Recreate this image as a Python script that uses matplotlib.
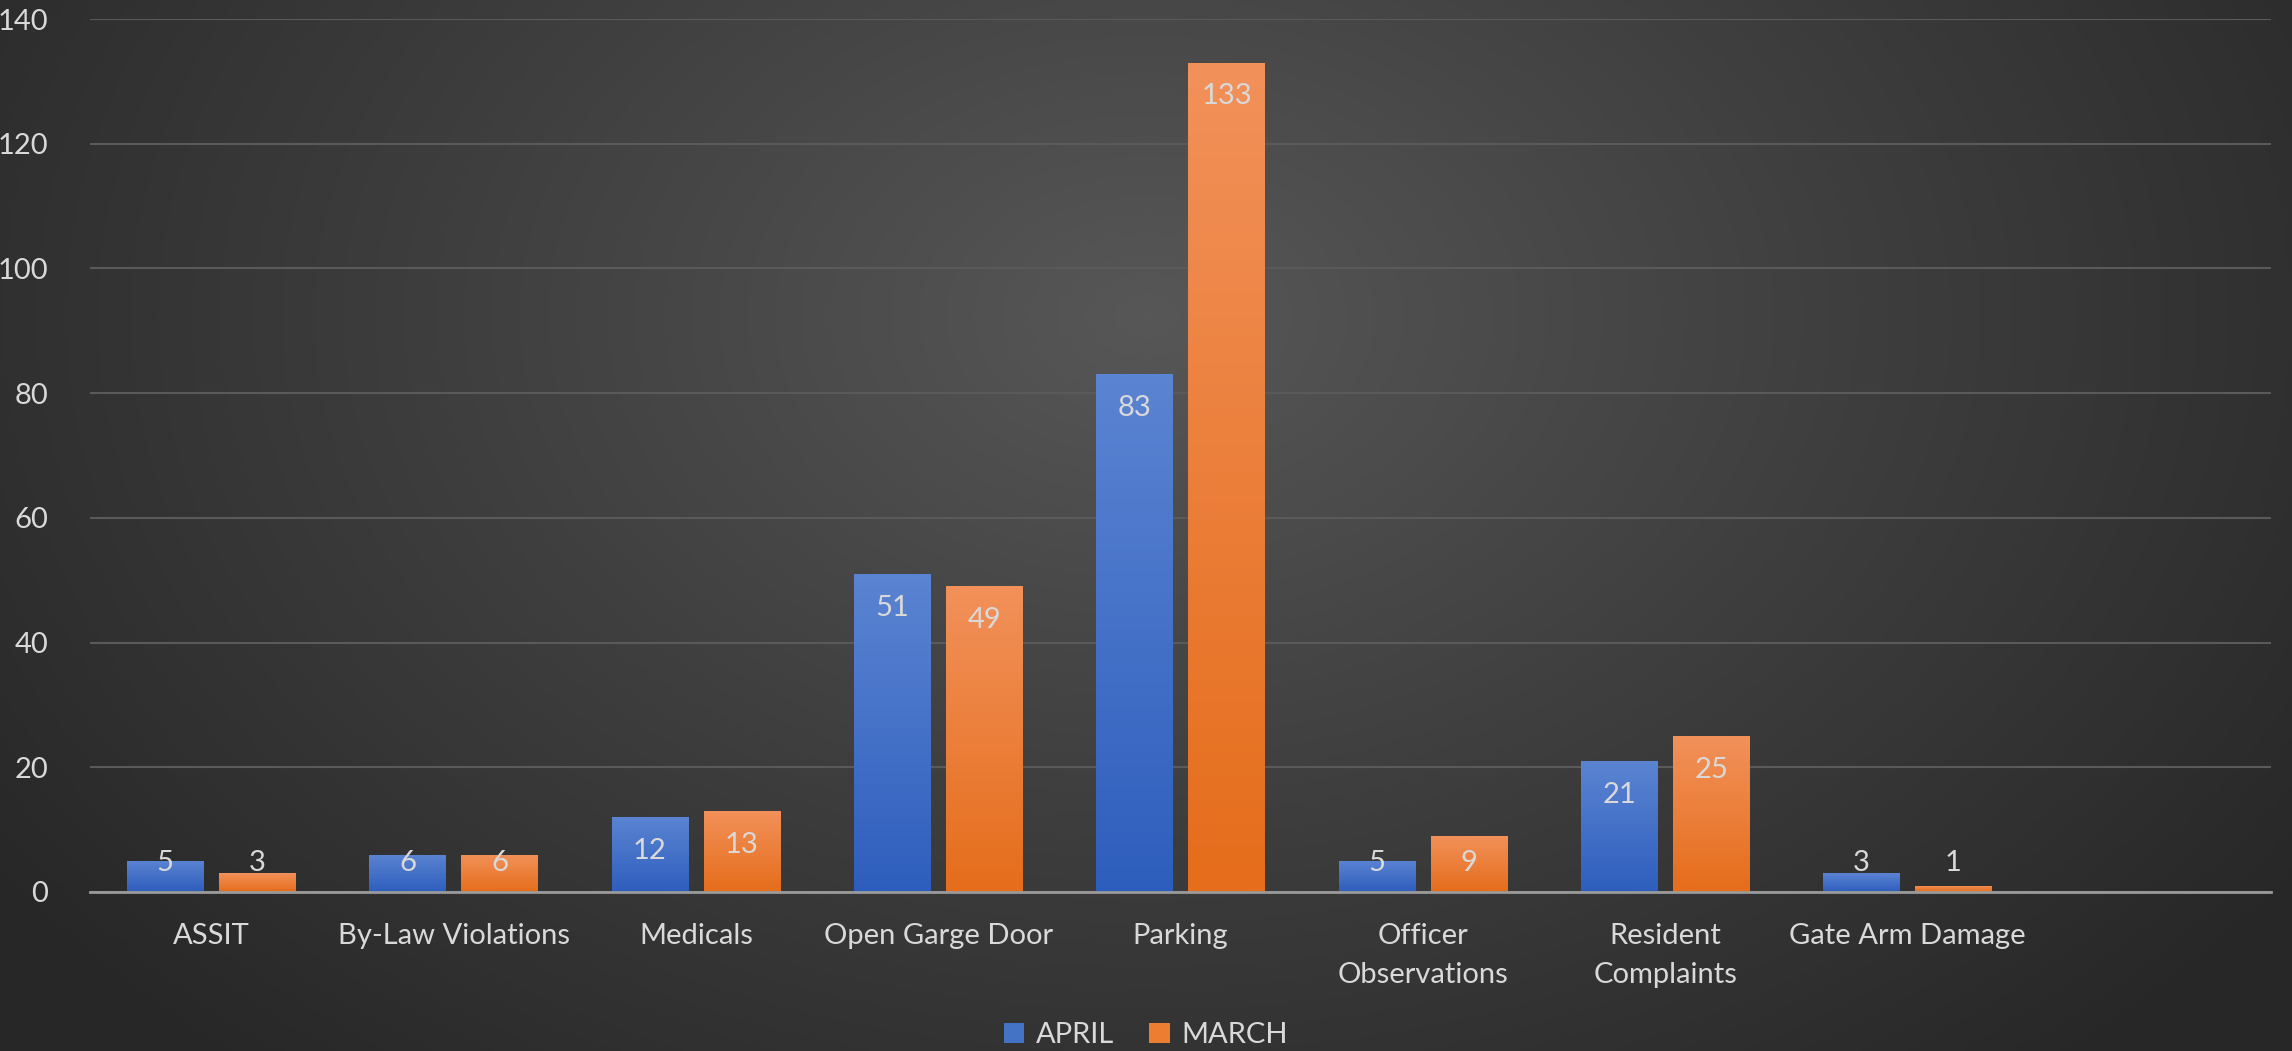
import numpy as np
import matplotlib
matplotlib.use("Agg")
import matplotlib.pyplot as plt
from matplotlib.colors import LinearSegmentedColormap
from matplotlib.patches import Patch

plt.rcParams['font.family'] = ['Lato', 'DejaVu Sans']

categories = ["ASSIT", "By-Law Violations", "Medicals", "Open Garge Door", "Parking",
              "Officer\nObservations", "Resident\nComplaints", "Gate Arm Damage", ""]
april = [5, 6, 12, 51, 83, 5, 21, 3, None]
march = [3, 6, 13, 49, 133, 9, 25, 1, None]
series_names = ["APRIL", "MARCH"]
yticks = [0, 20, 40, 60, 80, 100, 120, 140]

TXT = "#D9D9D9"
FS = 21
W, H = 2292, 1051
fig = plt.figure(figsize=(W / 100, H / 100), dpi=100)

# background radial gradient
bg = fig.add_axes([0, 0, 1, 1], zorder=-10)
yy, xx = np.mgrid[0:H:2, 0:W:2]
cx, cy = 0.50 * W, 0.30 * H
d = np.sqrt(((xx - cx) / (0.62 * W)) ** 2 + ((yy - cy) / (0.95 * H)) ** 2)
d = np.clip(d, 0, 1)
cmap_bg = LinearSegmentedColormap.from_list("bg", ["#575757", "#3e3e3e", "#272727"])
bg.imshow(d, cmap=cmap_bg, vmin=0, vmax=1, aspect="auto", extent=[0, 1, 0, 1])
bg.set_axis_off()

ax = fig.add_axes([90 / W, 1 - 892 / H, (2271 - 90) / W, (892 - 19) / H])
ax.patch.set_alpha(0)

n = len(categories)
x = np.arange(n)
bw = 0.314
off = 0.19

blue_cmap = LinearSegmentedColormap.from_list("b", ["#2E5EBD", "#5B84D2"])
orange_cmap = LinearSegmentedColormap.from_list("o", ["#E56D1B", "#F2915A"])
grad = np.linspace(0, 1, 256).reshape(-1, 1)

for vals, sgn, cm in [(april, -1, blue_cmap), (march, 1, orange_cmap)]:
    for i, v in enumerate(vals):
        if v is None:
            continue
        xc = x[i] + sgn * off
        bar = ax.bar(xc, v, width=bw, color=cm(0.5), zorder=3, linewidth=0)[0]
        im = ax.imshow(grad, cmap=cm, origin="lower", aspect="auto",
                       extent=[xc - bw / 2, xc + bw / 2, 0, v], zorder=3.1)
        im.set_clip_path(bar)
        ly = max(v - 5.4, 4.7)
        ax.text(xc, ly, str(v), ha="center", va="center", color=TXT,
                fontsize=FS, zorder=5)

ax.set_xlim(-0.5, n - 0.5)
ax.set_ylim(0, 140)
ax.set_yticks(yticks)
ax.set_yticklabels([str(t) for t in yticks])
ax.set_xticks(x)
ax.set_xticklabels(categories, linespacing=1.65)
ax.tick_params(axis="both", length=0, colors=TXT, labelsize=FS)
ax.tick_params(axis="x", pad=22)
ax.tick_params(axis="y", pad=30)
ax.grid(axis="y", color="#5a5a5a", linewidth=1.5, zorder=0)
ax.set_axisbelow(True)
for s in ["top", "right", "left"]:
    ax.spines[s].set_visible(False)
ax.spines["bottom"].set_color("#9a9a9a")
ax.spines["bottom"].set_linewidth(2)
ax.spines["bottom"].set_zorder(4)

handles = [Patch(facecolor="#4472C4", edgecolor="none"),
           Patch(facecolor="#ED7D31", edgecolor="none")]
fig.legend(handles, series_names, loc="center", bbox_to_anchor=(0.5, 1 - 1035 / H),
           ncol=2, frameon=False, fontsize=FS, labelcolor=TXT,
           handlelength=0.7, handleheight=0.7, handletextpad=0.4, columnspacing=1.2)

fig.savefig("out.png", dpi=100)
